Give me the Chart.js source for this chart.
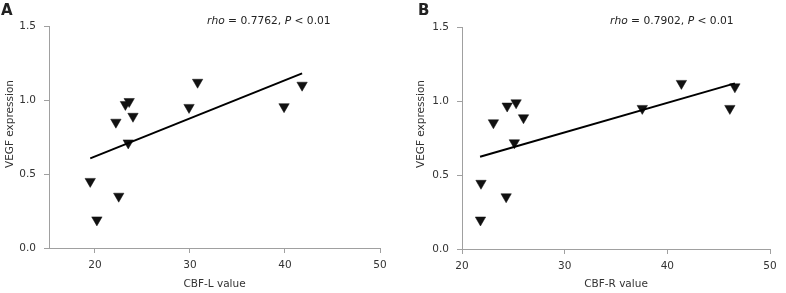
<!DOCTYPE html>
<html>
<head>
<meta charset="utf-8">
<script src="https://cdn.jsdelivr.net/npm/chart.js@4.4.1/dist/chart.umd.min.js"></script>
<style>
  html, body { margin: 0; padding: 0; background: #fff; }
  .wrap { display: flex; width: 786px; height: 293px; }
  canvas { display: block; }
</style>
</head>
<body>
<div class="wrap">
  <canvas id="chartA" width="393" height="293"></canvas>
  <canvas id="chartB" width="393" height="293"></canvas>
</div>
<script>
// values
const cbfL = [19.5, 20.2, 22.5, 22.2, 23.2, 23.6, 24.0, 23.5, 29.9, 30.8, 39.9, 41.8];
const vegfL = [0.45, 0.19, 0.35, 0.85, 0.97, 0.99, 0.89, 0.71, 0.95, 1.12, 0.955, 1.10];
const fitL_x = [19.5, 41.8];
const fitL_y = [0.606, 1.18];

const cbfR = [21.85, 21.8, 24.3, 23.06, 24.4, 25.27, 25.99, 25.1, 37.56, 41.37, 46.09, 46.58];
const vegfR = [0.444, 0.196, 0.353, 0.853, 0.966, 0.988, 0.887, 0.718, 0.95, 1.119, 0.95, 1.096];
const fitR_x = [21.76, 46.58];
const fitR_y = [0.623, 1.119];

const yTicks = [0, 0.5, 1.0, 1.5];
const xTicks = [20, 30, 40, 50];

const FONT = "'DejaVu Sans', Verdana, sans-serif";
const textCol = "#333";
const axisCol = "#a0a0a0";

// panel letter, rho/P text and the y title
const labelsPlugin = {
    id: "panelText",
    afterDraw(chart, args, opts) {
        const ctx = chart.ctx;
        ctx.save();
        ctx.fillStyle = "#222";
        ctx.textBaseline = "alphabetic";
        ctx.font = "bold 15px " + FONT;
        ctx.fillText(opts.letter, opts.letterX, 15);

        let x = opts.statX;
        const y = 24;
        const parts = [
            ["italic", "rho"],
            ["normal", " = " + opts.rho + ", "],
            ["italic", "P"],
            ["normal", " < 0.01"]
        ];
        parts.forEach(p => {
            ctx.font = p[0] + " 10.7px " + FONT;
            ctx.fillText(p[1], x, y);
            x += ctx.measureText(p[1]).width;
        });

        ctx.fillStyle = textCol;
        ctx.font = "10.5px " + FONT;
        ctx.textAlign = "center";
        ctx.textBaseline = "middle";
        ctx.translate(opts.yTitleX, 124);
        ctx.rotate(-Math.PI / 2);
        ctx.fillText("VEGF expression", 0, 0);
        ctx.restore();
    }
};

function makeChart(id, xs, ys, fx, fy, cfg) {
    const points = xs.map((x, i) => ({ x: x, y: ys[i] }));
    const fit = fx.map((x, i) => ({ x: x, y: fy[i] }));

    return new Chart(document.getElementById(id).getContext("2d"), {
        type: "scatter",
        data: {
            datasets: [
                {
                    type: "line",
                    data: fit,
                    borderColor: "#000",
                    borderWidth: 2,
                    pointRadius: 0,
                    fill: false
                },
                {
                    data: points,
                    pointStyle: "triangle",
                    rotation: 180,
                    pointRadius: 6,
                    backgroundColor: "#111",
                    borderColor: "#111",
                    borderWidth: 0.5
                }
            ]
        },
        options: {
            responsive: false,
            animation: false,
            devicePixelRatio: 1,
            layout: { padding: { left: 0, top: cfg.top, right: cfg.right, bottom: 0 } },
            plugins: {
                legend: { display: false },
                tooltip: { enabled: false },
                panelText: { letter: cfg.letter, letterX: cfg.letterX, statX: cfg.statX, rho: cfg.rho, yTitleX: cfg.yTitleX }
            },
            scales: {
                x: {
                    type: "linear",
                    min: cfg.xMin,
                    max: 50,
                    afterBuildTicks: s => { s.ticks = xTicks.map(v => ({ value: v })); },
                    afterFit: s => { s.height = cfg.xHeight; },
                    grid: { drawOnChartArea: false, drawTicks: true, tickLength: 5, color: axisCol },
                    border: { display: true, color: axisCol, width: 1 },
                    ticks: { color: textCol, font: { family: FONT, size: 10.5 }, padding: 6 },
                    title: {
                        display: true, text: cfg.xTitle, color: textCol,
                        font: { family: FONT, size: 10.5 }, padding: { top: 2, bottom: 2 }
                    }
                },
                y: {
                    min: 0,
                    max: 1.5,
                    afterBuildTicks: s => { s.ticks = yTicks.map(v => ({ value: v })); },
                    afterFit: s => { s.width = cfg.yWidth; },
                    grid: { drawOnChartArea: false, drawTicks: true, tickLength: 5, color: axisCol },
                    border: { display: true, color: axisCol, width: 1 },
                    ticks: {
                        color: textCol, font: { family: FONT, size: 10.5 }, padding: 8,
                        callback: v => Number(v).toFixed(1)
                    }
                }
            }
        },
        plugins: [labelsPlugin]
    });
}

makeChart("chartA", cbfL, vegfL, fitL_x, fitL_y, {
    letter: "A", letterX: 1, statX: 207, rho: "0.7762", yTitleX: 10,
    top: 26, right: 13, xMin: 15.16, xHeight: 45, yWidth: 49,
    xTitle: "CBF-L value"
});

makeChart("chartB", cbfR, vegfR, fitR_x, fitR_y, {
    letter: "B", letterX: 25, statX: 217, rho: "0.7902", yTitleX: 28,
    top: 27, right: 16, xMin: 20, xHeight: 44, yWidth: 69,
    xTitle: "CBF-R value"
});
</script>
</body>
</html>
